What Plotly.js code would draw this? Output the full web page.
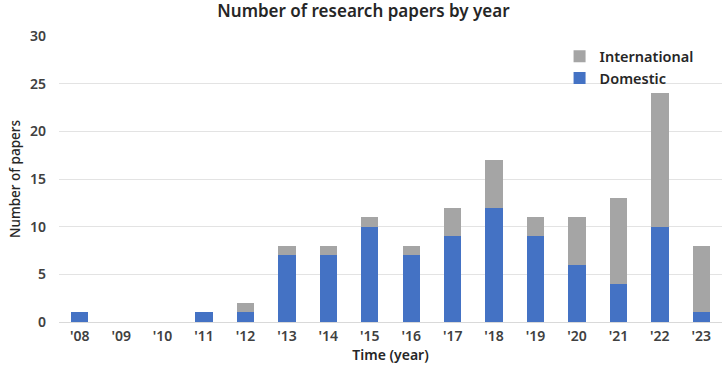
<!DOCTYPE html>
<html><head><meta charset="utf-8">
<script src="https://cdn.plot.ly/plotly-3.0.1.min.js"></script>
<style>html,body{margin:0;padding:0;background:#fff}#c{width:727px;height:368px}</style>
</head><body><div id="c"></div>
<script>
var years = ["'08","'09","'10","'11","'12","'13","'14","'15","'16","'17","'18","'19","'20","'21","'22","'23"];
var domestic = [1,0,0,1,1,7,7,10,7,9,12,9,6,4,10,1];
var international = [0,0,0,0,1,1,1,1,1,3,5,2,5,9,14,7];
var yTicks = [0,5,10,15,20,25,30];

var font = "Noto Sans, Open Sans, sans-serif";
var data = [
  {type:'bar', name:'Domestic', x:years, y:domestic, marker:{color:'#4472C4'}, hoverinfo:'x+y+name'},
  {type:'bar', name:'International', x:years, y:international, marker:{color:'#A5A5A5'}, hoverinfo:'x+y+name'}
];
var layout = {
  width:727, height:368,
  margin:{l:59, r:5, t:36, b:46},
  barmode:'stack', bargap:0.58,
  paper_bgcolor:'#fff', plot_bgcolor:'#fff',
  font:{family:font, color:'#404040', size:14},
  title:{text:'Number of research papers by year', x:0.5, xanchor:'center', y:0.985, yanchor:'top', font:{size:17, weight:600, color:'#262626', family:font}},
  xaxis:{type:'category', tickfont:{size:14, weight:600, color:'#404040', family:font}, ticks:'', ticklabelstandoff:4, showgrid:false, zeroline:false, showline:false,
    title:{text:'Time (year)', font:{size:14, weight:600, color:'#262626'}, standoff:4}},
  yaxis:{range:[0,30], tickvals:yTicks, ticktext:yTicks.map(String), showgrid:true, gridcolor:'#E3E3E3', gridwidth:1, zeroline:true, zerolinecolor:'#D9D9D9', showline:false, ticks:'',
    tickfont:{size:14, weight:600, color:'#404040', family:font}, ticklabelstandoff:12,
    title:{text:'Number of papers', font:{size:13.5, weight:500, color:'#262626'}, standoff:6}},
  legend:{x:0.755, y:0.985, xanchor:'left', yanchor:'top', traceorder:'reversed', font:{size:14.5, weight:600, color:'#262626', family:font}, bgcolor:'rgba(0,0,0,0)', itemwidth:30, tracegroupgap:0},
  showlegend:true
};
Plotly.newPlot('c', data, layout, {displayModeBar:false, staticPlot:true});
</script></body></html>
